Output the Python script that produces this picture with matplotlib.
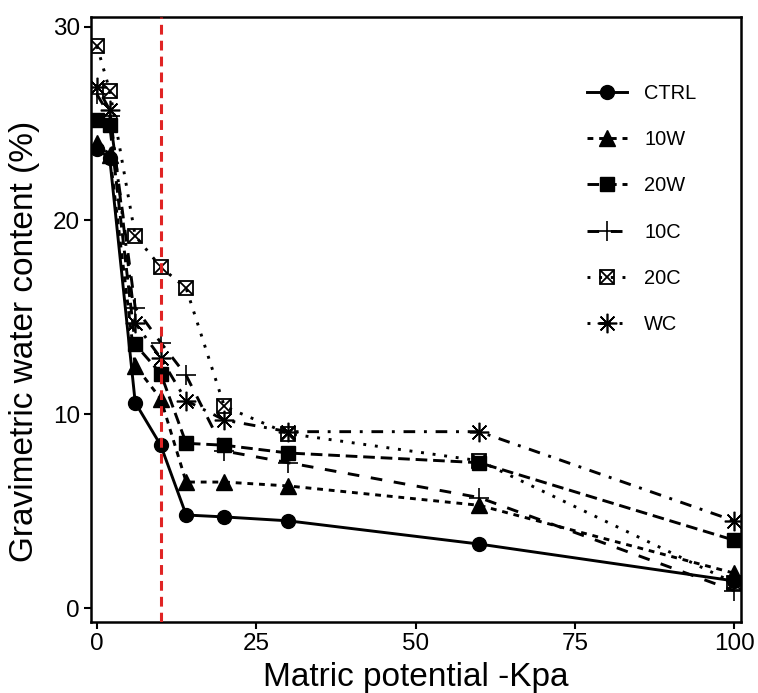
"""Gravimetric water content vs matric potential for six soil treatments."""

import matplotlib
matplotlib.use("Agg")
import matplotlib.pyplot as plt
from matplotlib.legend_handler import HandlerTuple

plt.rcParams["font.family"] = ["Liberation Sans", "DejaVu Sans"]

# matric potential (-kPa)
potential = [0, 2, 6, 10, 14, 20, 30, 60, 100]

# gravimetric water content (%)
ctrl = [23.7, 23.2, 10.6, 8.4, 4.8, 4.7, 4.5, 3.3, 1.4]
w10 = [24.0, 23.4, 12.5, 10.8, 6.5, 6.5, 6.3, 5.3, 1.8]
w20 = [25.2, 24.9, 13.6, 12.1, 8.5, 8.4, 8.0, 7.5, 3.5]
c10 = [26.5, 25.4, 15.5, 13.7, 12.0, 8.1, 7.5, 5.7, 0.9]
c20 = [29.0, 26.7, 19.2, 17.6, 16.5, 10.4, 9.0, 7.6, 1.3]
wc = [26.9, 25.7, 14.7, 12.9, 10.7, 9.7, 9.1, 9.1, 4.5]

threshold = 10

series = [
    ("CTRL", ctrl, "o", (None, None)),
    ("10W", w10, "^", (2, 2)),
    ("20W", w20, "s", (4, 2)),
    ("10C", c10, "+", (4, 4)),
    ("20C", c20, "boxcross", (1, 3)),
    ("WC", wc, (8, 2, 0), (1, 3, 4, 3)),
]

fig, ax = plt.subplots(figsize=(7.58, 6.93), dpi=100)
fig.subplots_adjust(left=0.120, right=0.9776, bottom=0.1025, top=0.9755)

handles = []
labels = []
for name, values, marker, dashes in series:
    kw = dict(color="black", lw=2.1, zorder=3)
    if marker == "boxcross":
        line, = ax.plot(potential, values, marker="s", ms=10, mfc="none",
                        mec="black", mew=1.3, **kw)
        cross, = ax.plot(potential, values, ls="none", marker="x", ms=10,
                         mec="black", mew=1.3, zorder=3)
        line.set_dashes(dashes)
        handles.append((line, cross))
    else:
        if marker in ("+", (8, 2, 0)):
            line, = ax.plot(potential, values, marker=marker, ms=15 if marker == "+" else 14,
                            mew=1.2, **kw)
        elif marker == "^":
            line, = ax.plot(potential, values, marker=marker, ms=11, **kw)
        else:
            line, = ax.plot(potential, values, marker=marker, ms=10, **kw)
        if dashes[0] is not None:
            line.set_dashes(dashes)
        handles.append(line)
    labels.append(name)

ax.axvline(threshold, color="#e02424", lw=2.2, ls=(0, (3.2, 2.0)), zorder=4)

ax.set_xlim(-0.95, 101.1)
ax.set_ylim(-0.72, 30.5)
ax.set_xticks([0, 25, 50, 75, 100])
ax.set_yticks([0, 10, 20, 30])
ax.tick_params(axis="both", labelsize=17.5, length=5, width=1.5, colors="black", pad=3)
for spine in ax.spines.values():
    spine.set_linewidth(1.8)

ax.set_xlabel("Matric potential -Kpa", fontsize=24, va="baseline")
ax.xaxis.set_label_coords(0.5, -0.106)
ax.set_ylabel("Gravimetric water content (%)", fontsize=24, va="center")
ax.yaxis.set_label_coords(-0.102, 0.464)

ax.legend(handles, labels, handler_map={tuple: HandlerTuple(ndivide=1)},
          loc="upper left", bbox_to_anchor=(587 / 758, 1 - 84 / 693),
          bbox_transform=fig.transFigure, frameon=False, fontsize=14.4,
          handlelength=2.0, handletextpad=0.85, labelspacing=1.36, borderpad=0,
          borderaxespad=0)

fig.savefig("out.png", dpi=100)
